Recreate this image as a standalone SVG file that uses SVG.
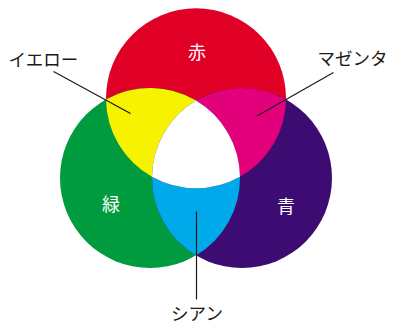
<svg xmlns="http://www.w3.org/2000/svg" width="393" height="324" viewBox="0 0 393 324">
<style>
.lbl{font-family:"Noto Sans CJK JP","Noto Sans",sans-serif;font-size:17.5px;fill:#231815}
.in{font-family:"Noto Sans CJK JP","Noto Sans",sans-serif;font-size:18px;fill:#ffffff;text-anchor:middle}
.lead{stroke:#1a1a1a;stroke-width:1.2;fill:none}
</style>
<rect width="393" height="324" fill="#ffffff"/>
<g id="red"><circle cx="196" cy="98.3" r="90" fill="#E00025"/></g>
<g id="green"><circle cx="150" cy="178" r="90" fill="#009B3E"/></g>
<g id="blue"><circle cx="242" cy="178" r="90" fill="#3C0C73"/></g>
<g id="yellow"><path d="M106,99.5 A90,90 0 0 1 196,100.6 A90,90 0 0 0 152,176.8 A90,90 0 0 1 106,99.5 Z" fill="#F7F200"/></g>
<g id="magenta"><path d="M286,99.5 A90,90 0 0 0 196,100.6 A90,90 0 0 1 240,176.8 A90,90 0 0 0 286,99.5 Z" fill="#E2007B"/></g>
<g id="cyan"><path d="M152,176.8 A90,90 0 0 0 240,176.8 A90,90 0 0 1 196,255.4 A90,90 0 0 1 152,176.8 Z" fill="#00A9E9"/></g>
<g id="white"><path d="M196,100.6 A90,90 0 0 1 240,176.8 A90,90 0 0 1 152,176.8 A90,90 0 0 1 196,100.6 Z" fill="#ffffff"/></g>
<g id="connectors">
<line class="lead" x1="53.5" y1="71.5" x2="130.5" y2="113.5"/>
<line class="lead" x1="333.5" y1="72.5" x2="257" y2="116"/>
<line class="lead" x1="196.5" y1="211.5" x2="196.5" y2="299.5"/>
</g>
<g id="labels">
<text class="in" x="197" y="58.5">赤</text>
<text class="in" x="111" y="210.5">緑</text>
<text class="in" x="286" y="213">青</text>
<text class="lbl" x="8.5" y="65.5">イエロー</text>
<text class="lbl" x="317.5" y="65">マゼンタ</text>
<text class="lbl" x="197" y="319.5" text-anchor="middle">シアン</text>
</g>
</svg>
